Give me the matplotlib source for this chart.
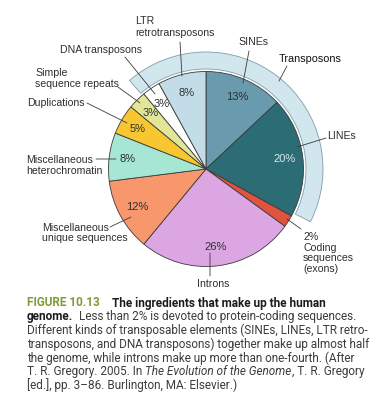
import matplotlib
matplotlib.use("Agg")
import matplotlib.pyplot as plt
from matplotlib.patches import Wedge

# ---- data ----
categories = ["SINEs", "LINEs", "Coding sequences (exons)", "Introns",
              "Miscellaneous unique sequences", "Miscellaneous heterochromatin",
              "Duplications", "Simple sequence repeats", "DNA transposons",
              "LTR retrotransposons"]
percents = [13, 20, 2, 26, 12, 8, 5, 3, 3, 8]
colors = ["#6a9aae", "#2c6c74", "#e0533f", "#dba6e2", "#f7976b", "#a6e7d4",
          "#f8c630", "#e1e797", "#ffffff", "#c3dde8"]
transposons = ["SINEs", "LINEs", "DNA transposons", "LTR retrotransposons"]

W, H = 382, 400
fig = plt.figure(figsize=(W / 100, H / 100), dpi=100)
ax = fig.add_axes([0, 0, 1, 1])

LBL = dict(family="Liberation Sans", fontsize=7.6, color="#2e2e2e")

cx, cy, R = 206, H - 169, 97.5
wedges, texts, autotexts = ax.pie(
    percents, colors=colors, startangle=90, counterclock=False,
    center=(cx, cy), radius=R,
    autopct=lambda p: f"{p:.0f}%", pctdistance=0.81,
    wedgeprops=dict(edgecolor="#3a3a3a", linewidth=0.6),
    textprops=dict(family="Liberation Sans", fontsize=8, color="#2e2e2e"))
for cat, t in zip(categories, autotexts):
    if cat.startswith("Coding"):
        t.set_text("")
    if cat == "LINEs":
        t.set_color("#d8eaec")

# outer ring for transposons (spans from end of LINEs to start of LTR)
w_lines = wedges[categories.index("LINEs")]
w_ltr = wedges[categories.index("LTR retrotransposons")]
a_end = min(w_lines.theta1, w_lines.theta2) % 360
if a_end > 180:
    a_end -= 360
a_start = max(w_ltr.theta1, w_ltr.theta2) % 360
ring = Wedge((cx, cy), R + 19.5, a_end + 2, a_start + 12, width=17,
             facecolor="#d2e6ee", edgecolor="#7d9eaa", linewidth=0.6, zorder=0)
ax.add_patch(ring)

ax.set_xlim(0, W)
ax.set_ylim(0, H)
ax.set_aspect("equal")
ax.axis("off")

def Y(py):
    return H - py

line = dict(arrowstyle="-", color="#3a3a3a", lw=0.6, shrinkA=0, shrinkB=0)

def lead(p0, p1):
    ax.annotate("", xy=(p1[0], Y(p1[1])), xytext=(p0[0], Y(p0[1])),
                arrowprops=line)

# external labels
ax.text(135, Y(27), "LTR\nretrotransposons", ha="left", va="center", linespacing=1.2, **LBL)
lead((180, 42), (182, 76))
ax.text(253, Y(42), "SINEs", ha="center", va="center", **LBL)
lead((249, 51), (243, 83))
ax.text(279, Y(59), "Transposons", ha="left", va="center",
        family="Liberation Sans", fontsize=7.8, color="#111111")
lead((287, 66), (279, 81))
ax.text(60, Y(50), "DNA transposons", ha="left", va="center", **LBL)
lead((125, 57), (155, 94))
ax.text(35, Y(78.5), "Simple\nsequence repeats", ha="left", va="center", linespacing=1.2, **LBL)
lead((118, 87), (140, 103))
ax.text(27, Y(103), "Duplications", ha="left", va="center", **LBL)
lead((87, 103), (127, 123))
ax.text(26, Y(165.5), "Miscellaneous\nheterochromatin", ha="left", va="center", linespacing=1.2, **LBL)
lead((96, 159), (116, 159))
ax.text(42, Y(233), "Miscellaneous\nunique sequences", ha="left", va="center", linespacing=1.1, **LBL)
lead((110, 227), (131, 217))
ax.text(213, Y(284), "Introns", ha="center", va="center", **LBL)
lead((210, 276), (210, 253))
coding_pct = percents[categories.index("Coding sequences (exons)")]
ax.text(303, Y(253), f"{coding_pct}%\nCoding\nsequences\n(exons)", ha="left", va="center",
        linespacing=1.1, **LBL)
lead((301, 229), (287, 219))
ax.text(327, Y(136), "LINEs", ha="left", va="center", **LBL)
lead((326, 138), (297, 147))

# caption
FS = 8.5
green = dict(family="Roboto", fontsize=FS, color="#7d9c36", fontweight="bold")
bold = dict(family="Roboto", fontsize=FS, color="#1c1c1c", fontweight="bold")
reg = dict(family="Roboto", fontsize=FS, color="#3c3c3c")
ita = dict(family="Roboto", fontsize=FS, color="#3c3c3c", style="italic")

caption = [
    [(0, "FIGURE 10.13", green), (12, "The ingredients that make up the human", bold)],
    [(0, "genome.", bold), (6, "Less than 2% is devoted to protein-coding sequences.", reg)],
    [(0, "Different kinds of transposable elements (SINEs, LINEs, LTR retro-", reg)],
    [(0, "transposons, and DNA transposons) together make up almost half", reg)],
    [(0, "the genome, while introns make up more than one-fourth. (After", reg)],
    [(0, "T. R. Gregory. 2005. In", reg), (3, "The Evolution of the Genome", ita),
     (0, ", T. R. Gregory", reg)],
    [(0, "[ed.], pp. 3\u201386. Burlington, MA: Elsevier.)", reg)],
]
fig.canvas.draw()
rend = fig.canvas.get_renderer()
for i, segs in enumerate(caption):
    x = 27
    y = Y(303 + i * 13.7)
    for gap, txt, st in segs:
        x += gap
        t = ax.text(x, y, txt, ha="left", va="center", **st)
        x += t.get_window_extent(renderer=rend).width

fig.savefig("out.png", dpi=100, facecolor="white")
